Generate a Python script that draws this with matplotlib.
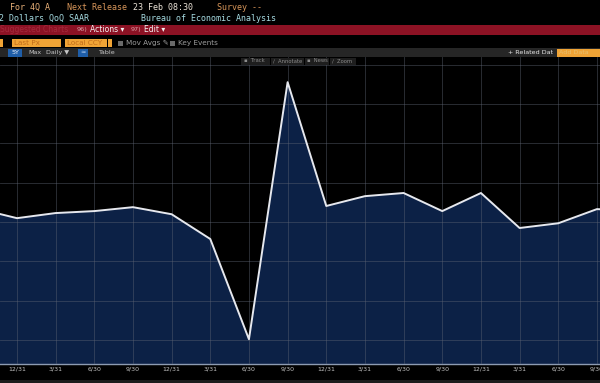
import matplotlib
matplotlib.use('Agg')
import matplotlib.pyplot as plt
from matplotlib.patches import Rectangle

W, H = 600, 383

# quarter ends; first and last sit just outside the visible window
quarters = ['9/30', '12/31', '3/31', '6/30', '9/30', '12/31', '3/31', '6/30', '9/30',
            '12/31', '3/31', '6/30', '9/30', '12/31', '3/31', '6/30', '9/30', '12/31']
values = [3.4, 1.0, 2.3, 2.8, 3.8, 2.0, -4.3, -29.8, 35.6, 4.1, 6.6, 7.4, 2.8, 7.4,
          -1.5, -0.3, 3.3, 2.9]
grid_levels = [-30, -20, -10, 0, 10, 20, 30, 40]


def px(x, y):
    # pixel coords (top-left origin) -> figure fraction
    return x / W, 1 - y / H


def rect(fig, x0, y0, x1, y1, color, z=5):
    fx, fy = px(x0, y1)
    fig.patches.append(Rectangle((fx, fy), (x1 - x0) / W, (y1 - y0) / H,
                                 transform=fig.transFigure, facecolor=color,
                                 edgecolor='none', zorder=z))


def txt(fig, x, y, s, color, size=6, family='DejaVu Sans', ha='left'):
    fx, fy = px(x, y)
    fig.text(fx, fy, s, color=color, fontsize=size, family=family, ha=ha,
             va='center', zorder=10)


fig = plt.figure(figsize=(W / 100, H / 100), dpi=100, facecolor='black')
ax = fig.add_axes([0, 1 - 364 / H, 1, (364 - 57) / H])
ax.set_facecolor('black')

x = list(range(len(values)))
ax.fill_between(x, values, -50, color='#0c2146', zorder=1, linewidth=0)
ax.plot(x, values, color='#e6e8ee', lw=1.4, zorder=3)

ax.set_xlim(0.561, 16.08)
ax.set_ylim(-36.1, 42)
ax.set_xticks(x[1:17])
ax.set_xticklabels(quarters[1:17])
ax.set_yticks(grid_levels)
ax.tick_params(axis='x', length=0, pad=2, labelsize=4.5, labelcolor='#c4c4c4')
ax.tick_params(axis='y', length=0, labelleft=False)
ax.set_axisbelow(False)
ax.grid(True, color='#5e6574', lw=0.6, alpha=0.5)
for s in ['top', 'left', 'right']:
    ax.spines[s].set_visible(False)
ax.spines['bottom'].set_color('#8d9bb2')
ax.spines['bottom'].set_linewidth(1.0)

# bottom strip
rect(fig, 0, 380, 600, 383, '#1c1c1c')

# header row 1 and 2
mono = 'DejaVu Sans Mono'
txt(fig, 10, 7, 'For 4Q A', '#e8b078', family=mono)
txt(fig, 67, 7, 'Next Release', '#d8965a', family=mono)
txt(fig, 133, 7, '23 Feb 08:30', '#ece4d8', family=mono)
txt(fig, 217, 7, 'Survey --', '#d8965a', family=mono)
txt(fig, -1, 18.5, '2 Dollars QoQ SAAR', '#a6dbe2', family=mono)
txt(fig, 141, 18.5, 'Bureau of Economic Analysis', '#a6dbe2', family=mono)

# red action bar
rect(fig, 0, 25, 600, 35, '#8c1224')
txt(fig, 0, 30, 'Suggested Charts', '#a42a3c', size=5.5)
txt(fig, 77, 30, '96)', '#d8a0a8', size=4.6)
txt(fig, 90, 30, 'Actions \u25be', '#f4f4f4', size=5.5)
txt(fig, 131, 30, '97)', '#d8a0a8', size=4.6)
txt(fig, 144, 30, 'Edit \u25be', '#f4f4f4', size=5.5)

# row 4: orange selectors
rect(fig, 0, 39, 3, 47, '#f0a436')
rect(fig, 12, 39, 61, 47, '#f0a436')
rect(fig, 65, 39, 107, 47, '#f0a436')
rect(fig, 108, 39, 112, 47, '#f0a436')
txt(fig, 14, 43, 'Last Px', '#c06c1a', size=5.2)
txt(fig, 67, 43, 'Local CCY', '#c06c1a', size=5.2)
rect(fig, 118, 40.5, 123, 45.5, '#6a6a6a')
txt(fig, 126, 43, 'Mov Avgs \u270e', '#9c9c9c', size=5.2)
rect(fig, 170, 40.5, 175, 45.5, '#6a6a6a')
txt(fig, 178, 43, 'Key Events', '#9c9c9c', size=5.2)

# row 5: dark toolbar
rect(fig, 0, 48, 600, 57, '#262626')
rect(fig, 8, 48.5, 22, 56.5, '#1f5ea8')
txt(fig, 15, 52.5, '5Y', '#e8eef8', size=4.6, ha='center')
txt(fig, 28, 52.5, 'Max', '#c8c8c8', size=4.6)
txt(fig, 46, 52.5, 'Daily \u25bc', '#c8c8c8', size=4.6)
rect(fig, 78, 48.5, 88, 56.5, '#1f5ea8')
txt(fig, 83, 52.5, '\u2248', '#b8d0f0', size=4.6, ha='center')
txt(fig, 98, 52.5, 'Table', '#c8c8c8', size=4.6)
txt(fig, 508, 52.5, '+ Related Dat', '#e8e8e8', size=4.6)
rect(fig, 557, 48.5, 600, 56.5, '#f0a436')
txt(fig, 559, 52.5, 'Add Data', '#e8c070', size=4.6)

# row 6: chart tool buttons
rect(fig, 241, 57.5, 270, 64.5, '#1e1e1e', z=6)
txt(fig, 244, 61, '\u25aa  Track', '#8c8c8c', size=3.8)
rect(fig, 271, 57.5, 304, 64.5, '#1e1e1e', z=6)
txt(fig, 273, 61, '\u2215  Annotate', '#8c8c8c', size=3.8)
rect(fig, 305, 57.5, 329, 64.5, '#1e1e1e', z=6)
txt(fig, 307, 61, '\u25aa  News', '#8c8c8c', size=3.8)
rect(fig, 330, 57.5, 356, 64.5, '#1e1e1e', z=6)
txt(fig, 332, 61, '\u2215  Zoom', '#8c8c8c', size=3.8)

fig.savefig('out.png', dpi=100, facecolor='black')
